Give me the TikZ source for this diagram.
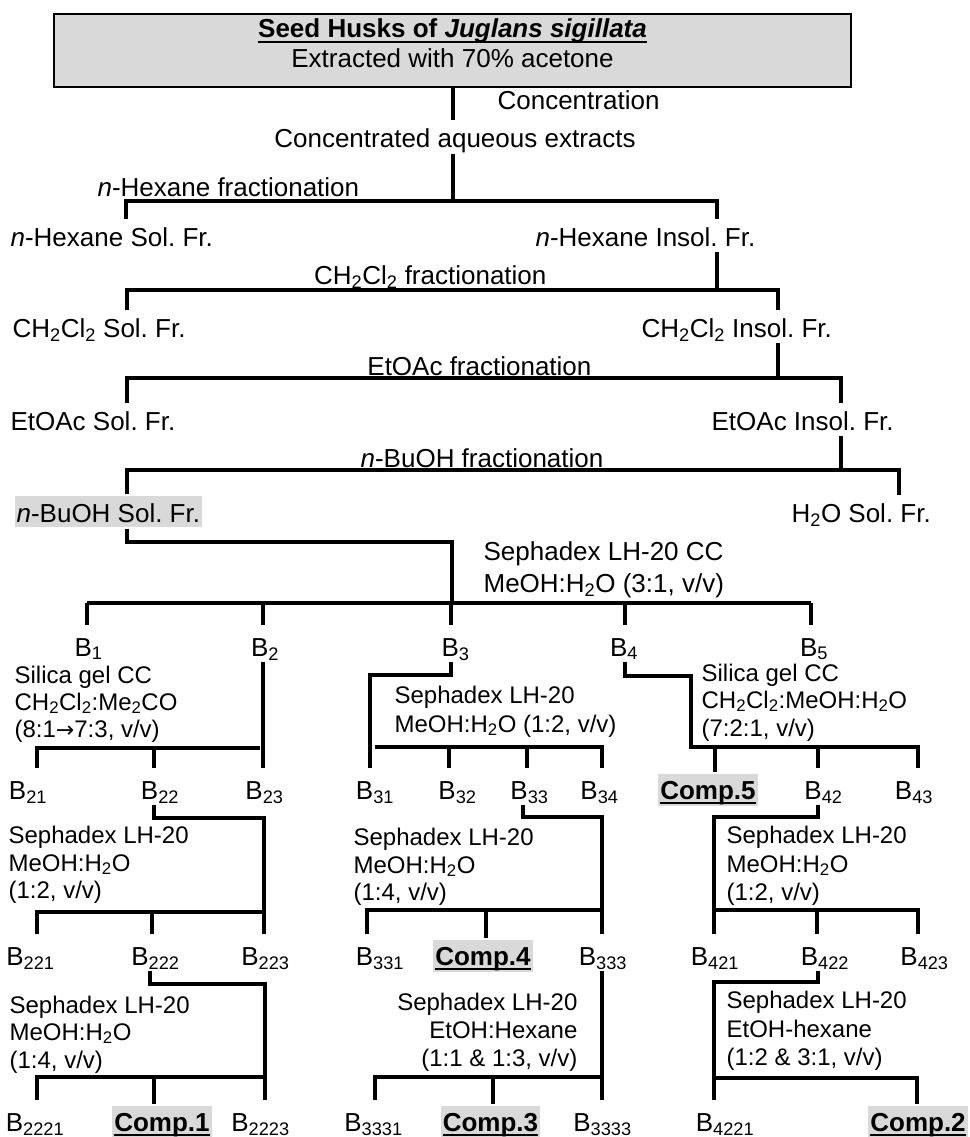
\documentclass[tikz,border=0pt]{standalone}
\usepackage{fontspec}
\setmainfont{Liberation Sans}
\newfontfamily\arrfont{DejaVu Sans}
\definecolor{shade}{HTML}{D9D9D9}
\newsavebox\ulbox
\newcommand\ulc[1]{\sbox\ulbox{#1}\rlap{\rule[-5pt]{\wd\ulbox}{2pt}}\usebox\ulbox}
\newcommand\sbs[1]{\textsubscript{#1}}
\frenchspacing
\begin{document}
\begin{tikzpicture}[x=1pt,y=-1pt,line width=3.2pt,line join=miter,
  every node/.style={inner sep=0pt},
  big/.style={font=\fontsize{26}{30}\selectfont},
  cond/.style={font=\fontsize{24}{28}\selectfont,anchor=base west},
  condr/.style={font=\fontsize{24}{28}\selectfont,anchor=base east},
  frac/.style={big,anchor=base west,text height=25pt,text depth=4pt},
  lab/.style={big,anchor=base,text height=29pt,text depth=4pt},
  comp/.style={font=\fontsize{26}{30}\selectfont\bfseries,anchor=base,fill=shade,
               inner xsep=2pt,text height=25pt,text depth=7pt}]
\useasboundingbox (0,0) rectangle (969,1137);

% ---- top box
\node[draw,line width=2.7pt,fill=shade,minimum width=797pt,minimum height=73pt] (topbox) at (452.5,50.5) {};
\node[big,anchor=base] (title1) at (452.5,38) {\ulc{\bfseries Seed Husks of \itshape Juglans sigillata}};
\node[big,anchor=base] (title2) at (452.5,68) {Extracted with 70\% acetone};
\node[big,anchor=base west] (conc) at (496,110) {Concentration};
\node[big,anchor=base,text height=25pt,text depth=5pt] (cae) at (455,147) {Concentrated aqueous extracts};
\coordinate (t0) at (453,201);
\draw (topbox.south -| t0) -- (cae.north -| t0);
\draw (cae.south -| t0) -- (t0);

% ---- n-hexane
\node[big,anchor=base west] (nhf) at (96,196) {\textit{n}-Hexane fractionation};
\node[frac] (nhs) at (9,246) {\textit{n}-Hexane Sol. Fr.};
\node[frac] (nhi) at (534,246) {\textit{n}-Hexane Insol. Fr.};
\coordinate (hexL) at (126,201); \coordinate (hexR) at (717,201);
\draw (hexL |- nhs.north) -- (hexL) -- (hexR) -- (hexR |- nhi.north);

% ---- CH2Cl2
\node[big,anchor=base east] (cfr) at (548,284) {CH\sbs{2}Cl\sbs{2} fractionation};
\node[frac] (dcs) at (11,337) {CH\sbs{2}Cl\sbs{2} Sol. Fr.};
\node[frac] (dci) at (640,337) {CH\sbs{2}Cl\sbs{2} Insol. Fr.};
\coordinate (dcmL) at (127,290); \coordinate (dcmR) at (778,290);
\draw (hexR |- nhi.south) -- (hexR |- dcmL);
\draw (dcmL |- dcs.north) -- (dcmL) -- (dcmR) -- (dcmR |- dci.north);

% ---- EtOAc
\node[big,anchor=base east] (efr) at (593,375) {EtOAc fractionation};
\node[frac] (ets) at (9,430) {EtOAc Sol. Fr.};
\node[frac] (eti) at (710,430) {EtOAc Insol. Fr.};
\coordinate (etL) at (127,378); \coordinate (etR) at (841,378);
\draw (dcmR |- dci.south) -- (dcmR |- etL);
\draw (etL |- ets.north) -- (etL) -- (etR) -- (etR |- eti.north);

% ---- n-BuOH
\node[big,anchor=base east] (bfr) at (605,467) {\textit{n}-BuOH fractionation};
\node[big,anchor=base west,fill=shade,inner xsep=2pt,text height=26pt,text depth=5pt] (bsol) at (13,522) {\textit{n}-BuOH Sol. Fr.};
\node[frac] (h2o) at (790,522) {H\sbs{2}O Sol. Fr.};
\coordinate (buL) at (127,470); \coordinate (buR) at (899,470);
\draw (etR |- eti.south) -- (etR |- buL);
\draw (buL |- bsol.north) -- (buL) -- (buR) -- (buR |- h2o.north);

% ---- Sephadex CC
\node[big,anchor=base west] (sx1) at (482,560) {Sephadex LH-20 CC};
\node[big,anchor=base west] (sx2) at (482,592) {MeOH:H\sbs{2}O (3:1, v/v)};
\coordinate (bj) at (452,542);
\coordinate (s1) at (87,603); \coordinate (s2) at (263,603); \coordinate (s3) at (451,603);
\coordinate (s4) at (625,603); \coordinate (s5) at (811,603);
\draw (buL |- bsol.south) |- (bj) -- (bj |- s1);
\draw (s1) -- (s5);

% ---- row 1
\node[lab] (b1) at (88.5,656) {B\sbs{1}};
\node[lab] (b2) at (265,656) {B\sbs{2}};
\node[lab] (b3) at (455.5,656) {B\sbs{3}};
\node[lab] (b4) at (624,656) {B\sbs{4}};
\node[lab] (b5) at (814,656) {B\sbs{5}};
\draw (s1) -- (s1 |- b1.north);
\draw (s2) -- (s2 |- b2.north);
\draw (s3) -- (s3 |- b3.north);
\draw (s4) -- (s4 |- b4.north);
\draw (s5) -- (s5 |- b5.north);

% ---- conditions row 1 -> 2
\node[cond] (c1a) at (13,683) {Silica gel CC};
\node[cond] (c1b) at (13,710) {CH\sbs{2}Cl\sbs{2}:Me\sbs{2}CO};
\node[cond] (c1c) at (13,737) {(8:1{\arrfont\fontsize{22}{24}\selectfont →}7:3, v/v)};
\node[cond] (c3a) at (393,703) {Sephadex LH-20};
\node[cond] (c3b) at (393,732) {MeOH:H\sbs{2}O (1:2, v/v)};
\node[cond] (c4a) at (700,681) {Silica gel CC};
\node[cond] (c4b) at (700,708) {CH\sbs{2}Cl\sbs{2}:MeOH:H\sbs{2}O};
\node[cond] (c4c) at (700,736) {(7:2:1, v/v)};

% ---- row 2
\node[lab] (b21) at (28,799) {B\sbs{21}};
\node[lab] (b22) at (160,799) {B\sbs{22}};
\node[lab] (b23) at (264.5,799) {B\sbs{23}};
\node[lab] (b31) at (375,799) {B\sbs{31}};
\node[lab] (b32) at (457.5,799) {B\sbs{32}};
\node[lab] (b33) at (529.5,799) {B\sbs{33}};
\node[lab] (b34) at (599.5,799) {B\sbs{34}};
\node[comp] (comp5) at (708,799) {\ulc{Comp.5}};
\node[lab] (b42) at (823.5,799) {B\sbs{42}};
\node[lab] (b43) at (914,799) {B\sbs{43}};

% B2 branch
\coordinate (c21) at (37,748); \coordinate (c22) at (154,748); \coordinate (c23) at (260,748);
\draw (s2 |- b2.south) -- (s2 |- b23.north);
\draw (c21 |- b21.north) -- (c21) -- (c23);
\draw (c22) -- (c22 |- b22.north);
% B3 branch
\coordinate (h3) at (451,675); \coordinate (h0) at (370,675);
\coordinate (k1) at (375,747); \coordinate (k2) at (449,747); \coordinate (k3) at (527,747); \coordinate (k4) at (602,747);
\draw (s3 |- b3.south) -- (h3) -- (h0) -- (h0 |- b31.north);
\draw (k1) -- (k4) -- (k4 |- b34.north);
\draw (k2) -- (k2 |- b32.north);
\draw (k3) -- (k3 |- b33.north);
% B4 branch
\coordinate (q0) at (625,676); \coordinate (q1) at (691,676);
\coordinate (r0) at (691,747); \coordinate (r1) at (715,747); \coordinate (r2) at (818,747); \coordinate (r3) at (918,747);
\draw (s4 |- b4.south) -- (q0) -- (q1) -- (r0) -- (r3) -- (r3 |- b43.north);
\draw (r1) -- (r1 |- comp5.north);
\draw (r2) -- (r2 |- b42.north);

% ---- conditions row 2 -> 3
\node[cond] (c22a) at (7,843) {Sephadex LH-20};
\node[cond] (c22b) at (7,871) {MeOH:H\sbs{2}O};
\node[cond] (c22c) at (7,898) {(1:2, v/v)};
\node[cond] (c33a) at (352,845) {Sephadex LH-20};
\node[cond] (c33b) at (352,873) {MeOH:H\sbs{2}O};
\node[cond] (c33c) at (352,900) {(1:4, v/v)};
\node[cond] (c42a) at (725,843) {Sephadex LH-20};
\node[cond] (c42b) at (725,872) {MeOH:H\sbs{2}O};
\node[cond] (c42c) at (725,900) {(1:2, v/v)};

% ---- row 3
\node[lab] (b221) at (30.5,965) {B\sbs{221}};
\node[lab] (b222) at (155.5,965) {B\sbs{222}};
\node[lab] (b223) at (265.5,965) {B\sbs{223}};
\node[lab] (b331) at (380,965) {B\sbs{331}};
\node[comp] (comp4) at (483,965) {\ulc{Comp.4}};
\node[lab] (b333) at (603,965) {B\sbs{333}};
\node[lab] (b421) at (715,965) {B\sbs{421}};
\node[lab] (b422) at (825,965) {B\sbs{422}};
\node[lab] (b423) at (924.5,965) {B\sbs{423}};

% B22 branch
\coordinate (d0) at (154,818); \coordinate (d1) at (264,818);
\coordinate (e1) at (37,912); \coordinate (e2) at (152,912); \coordinate (e3) at (264,912);
\draw (d0 |- b22.south) -- (d0) -- (d1) -- (d1 |- b223.north);
\draw (e1 |- b221.north) -- (e1) -- (e3);
\draw (e2) -- (e2 |- b222.north);
% B33 branch
\coordinate (m0) at (523,817); \coordinate (m1) at (602,817);
\coordinate (n1) at (367,910); \coordinate (n2) at (486,910); \coordinate (n3) at (602,910);
\draw (m0 |- b33.south) -- (m0) -- (m1) -- (m1 |- b333.north);
\draw (n1 |- b331.north) -- (n1) -- (n3);
\draw (n2) -- (n2 |- comp4.north);
% B42 branch
\coordinate (u0) at (818,817); \coordinate (u1) at (714,817);
\coordinate (v2) at (817,910); \coordinate (v3) at (918,910);
\draw (u0 |- b42.south) -- (u0) -- (u1) -- (u1 |- b421.north);
\draw (u1 |- v3) -- (v3) -- (v3 |- b423.north);
\draw (v2) -- (v2 |- b422.north);

% ---- conditions row 3 -> 4
\node[cond] (c222a) at (8,1013) {Sephadex LH-20};
\node[cond] (c222b) at (8,1040) {MeOH:H\sbs{2}O};
\node[cond] (c222c) at (8,1068) {(1:4, v/v)};
\node[condr] (c333a) at (579,1010) {Sephadex LH-20};
\node[condr] (c333b) at (579,1038) {EtOH:Hexane};
\node[condr] (c333c) at (579,1066) {(1:1 \& 1:3, v/v)};
\node[cond] (c422a) at (725,1008) {Sephadex LH-20};
\node[cond] (c422b) at (725,1037) {EtOH-hexane};
\node[cond] (c422c) at (725,1065) {(1:2 \& 3:1, v/v)};

% ---- row 4
\node[lab] (b2221) at (35,1131) {B\sbs{2221}};
\node[comp] (comp1) at (162,1131) {\ulc{Comp.1}};
\node[lab] (b2223) at (260.5,1131) {B\sbs{2223}};
\node[lab] (b3331) at (373.5,1131) {B\sbs{3331}};
\node[comp] (comp3) at (490.5,1131) {\ulc{Comp.3}};
\node[lab] (b3333) at (602.5,1131) {B\sbs{3333}};
\node[lab] (b4221) at (725,1131) {B\sbs{4221}};
\node[comp] (comp2) at (918,1131) {\ulc{Comp.2}};

% B222 branch
\coordinate (f0) at (150,984); \coordinate (f3) at (265,984);
\coordinate (g1) at (37,1077); \coordinate (g2) at (154,1077);
\draw (f0 |- b222.south) -- (f0) -- (f3) -- (f3 |- b2223.north);
\draw (g1 |- b2221.north) -- (g1) -- (f3 |- g1);
\draw (g2) -- (g2 |- comp1.north);
% B333 branch
\coordinate (p1) at (375,1077); \coordinate (p2) at (493,1077); \coordinate (p3) at (602,1077);
\draw (p3 |- b333.south) -- (p3 |- b3333.north);
\draw (p1 |- b3331.north) -- (p1) -- (p3);
\draw (p2) -- (p2 |- comp3.north);
% B422 branch
\coordinate (w0) at (818,982); \coordinate (w1) at (714,982);
\coordinate (x2) at (917,1078);
\draw (w0 |- b422.south) -- (w0) -- (w1) -- (w1 |- b4221.north);
\draw (w1 |- x2) -- (x2) -- (x2 |- comp2.north);
\end{tikzpicture}
\end{document}
